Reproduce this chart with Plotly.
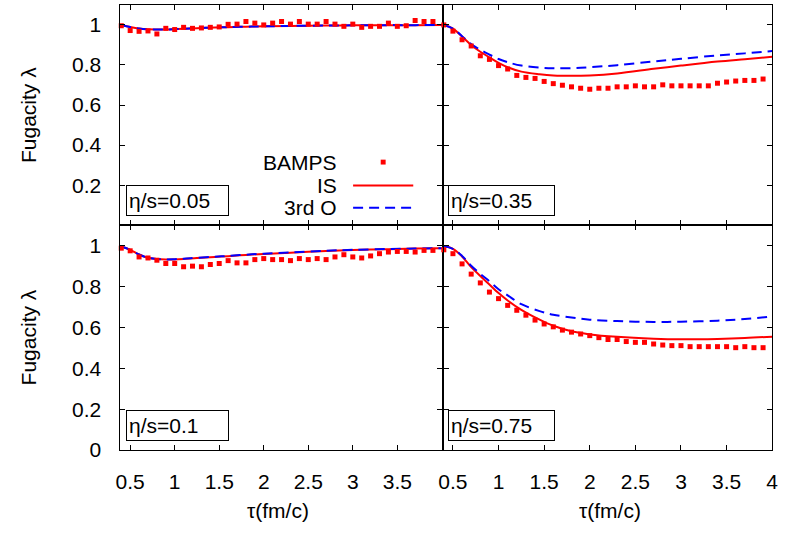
import plotly.graph_objects as go

# ---------------- data ----------------
tau_bamps = [0.4, 0.5, 0.6, 0.7, 0.8, 0.9, 1.0, 1.1, 1.2, 1.3, 1.4, 1.5,
             1.6, 1.7, 1.8, 1.9, 2.0, 2.1, 2.2, 2.3, 2.4, 2.5, 2.6, 2.7,
             2.8, 2.9, 3.0, 3.1, 3.2, 3.3, 3.4, 3.5, 3.6, 3.7, 3.8, 3.9]

tau_hydro = [0.4, 0.5, 0.6, 0.7, 0.8, 0.9, 1.0, 1.1, 1.25, 1.45, 1.6, 1.8,
             2.0, 2.3, 2.7, 3.0, 3.4, 3.7, 4.0]

# eta/s = 0.05
bamps_005 = [0.996, 0.972, 0.968, 0.970, 0.955, 0.983, 0.977, 0.988, 0.983, 0.985,
             0.988, 0.990, 1.003, 1.004, 1.017, 1.009, 1.000, 1.009, 1.017, 1.004,
             1.017, 1.004, 1.004, 1.017, 1.004, 0.993, 1.004, 0.988, 0.993, 0.993,
             1.009, 0.993, 0.996, 1.022, 1.017, 1.017]
is_005 = [1.000, 0.990, 0.982, 0.978, 0.977, 0.977, 0.979, 0.981, 0.984, 0.987,
          0.989, 0.991, 0.993, 0.995, 0.997, 0.998, 0.999, 0.999, 1.000]
o3_005 = [1.000, 0.990, 0.982, 0.978, 0.977, 0.977, 0.979, 0.981, 0.984, 0.987,
          0.989, 0.991, 0.993, 0.995, 0.997, 0.998, 0.999, 0.999, 1.000]

# eta/s = 0.35
bamps_035 = [1.000, 0.969, 0.926, 0.895, 0.846, 0.828, 0.797, 0.780, 0.748, 0.738,
             0.733, 0.718, 0.707, 0.699, 0.691, 0.684, 0.679, 0.684, 0.684, 0.691,
             0.691, 0.696, 0.691, 0.691, 0.701, 0.696, 0.696, 0.696, 0.696, 0.696,
             0.709, 0.715, 0.720, 0.723, 0.723, 0.730]
is_035 = [1.000, 0.982, 0.942, 0.900, 0.866, 0.838, 0.811, 0.789, 0.767, 0.754,
          0.748, 0.746, 0.748, 0.758, 0.781, 0.797, 0.817, 0.829, 0.841]
o3_035 = [1.000, 0.982, 0.944, 0.905, 0.876, 0.852, 0.830, 0.814, 0.797, 0.787,
          0.784, 0.784, 0.789, 0.799, 0.818, 0.831, 0.848, 0.858, 0.870]

# eta/s = 0.1
bamps_01 = [0.988, 0.975, 0.945, 0.940, 0.929, 0.913, 0.913, 0.897, 0.900, 0.897,
            0.908, 0.913, 0.927, 0.916, 0.916, 0.932, 0.937, 0.932, 0.932, 0.927,
            0.937, 0.932, 0.937, 0.932, 0.945, 0.956, 0.945, 0.940, 0.950, 0.961,
            0.969, 0.972, 0.972, 0.969, 0.977, 0.977]
is_01 = [0.996, 0.980, 0.957, 0.941, 0.935, 0.933, 0.933, 0.935, 0.940, 0.945,
         0.949, 0.955, 0.960, 0.966, 0.974, 0.979, 0.983, 0.986, 0.988]
o3_01 = [0.996, 0.980, 0.957, 0.941, 0.935, 0.933, 0.934, 0.936, 0.941, 0.946,
         0.950, 0.956, 0.961, 0.967, 0.975, 0.980, 0.984, 0.986, 0.988]

# eta/s = 0.75
bamps_075 = [0.980, 0.961, 0.911, 0.861, 0.818, 0.773, 0.741, 0.708, 0.684, 0.660,
             0.636, 0.617, 0.603, 0.587, 0.577, 0.568, 0.560, 0.550, 0.541, 0.541,
             0.531, 0.527, 0.527, 0.519, 0.514, 0.511, 0.511, 0.506, 0.506, 0.506,
             0.506, 0.506, 0.501, 0.506, 0.501, 0.501]
is_075 = [0.997, 0.985, 0.947, 0.895, 0.852, 0.810, 0.768, 0.732, 0.686, 0.638,
          0.608, 0.581, 0.566, 0.554, 0.545, 0.542, 0.544, 0.548, 0.555]
o3_075 = [0.997, 0.985, 0.950, 0.902, 0.862, 0.826, 0.787, 0.757, 0.714, 0.680,
          0.662, 0.649, 0.638, 0.631, 0.627, 0.628, 0.633, 0.641, 0.654]

panel_labels = ["η/s=0.05", "η/s=0.35", "η/s=0.1", "η/s=0.75"]
x_ticks_left = [0.5, 1, 1.5, 2, 2.5, 3, 3.5]
x_ticks_right = [0.5, 1, 1.5, 2, 2.5, 3, 3.5, 4]
y_ticks_top = [0.2, 0.4, 0.6, 0.8, 1]
y_ticks_bottom = [0, 0.2, 0.4, 0.6, 0.8, 1]
legend_names = ["BAMPS", "IS", "3rd O"]

RED = "#ff0000"
BLUE = "#0000ff"
FONT = "Liberation Sans"
FS = 21
W, H = 792, 535

fig = go.Figure()

panels = [
    (bamps_005, is_005, o3_005, "x", "y"),
    (bamps_035, is_035, o3_035, "x2", "y2"),
    (bamps_01, is_01, o3_01, "x3", "y3"),
    (bamps_075, is_075, o3_075, "x4", "y4"),
]
for bamps, ism, o3, xa, ya in panels:
    fig.add_trace(go.Scatter(x=tau_hydro, y=ism, mode="lines", xaxis=xa, yaxis=ya,
                             line=dict(color=RED, width=2, shape="spline"),
                             showlegend=False))
    fig.add_trace(go.Scatter(x=tau_hydro, y=o3, mode="lines", xaxis=xa, yaxis=ya,
                             line=dict(color=BLUE, width=2, dash="10px,6px", shape="spline"),
                             showlegend=False))
    fig.add_trace(go.Scatter(x=tau_bamps, y=bamps, mode="markers", xaxis=xa, yaxis=ya,
                             marker=dict(symbol="square", size=5, color=RED),
                             cliponaxis=False, showlegend=False))

def px(v):
    return v / W

def py(v):
    return 1 - v / H

axis_common = dict(showline=True, linecolor="black", linewidth=1, mirror="ticks",
                   ticks="inside", ticklen=5, tickcolor="black", tickwidth=1,
                   showgrid=False, zeroline=False,
                   tickfont=dict(family=FONT, size=FS, color="black"))

xl = [px(117), px(443)]
xr = [px(445), px(778)]
yt = [py(230), py(5)]
yb = [py(459.5), py(230)]

fig.update_layout(
    width=W, height=H,
    margin=dict(l=0, r=0, t=0, b=0),
    paper_bgcolor="white", plot_bgcolor="white",
    showlegend=False,
    xaxis=dict(axis_common, domain=xl, range=[0.39, 4.0], anchor="y",
               tickvals=x_ticks_left, showticklabels=False),
    xaxis2=dict(axis_common, domain=xr, range=[0.4, 4.0], anchor="y2",
                tickvals=x_ticks_right, showticklabels=False),
    xaxis3=dict(axis_common, domain=xl, range=[0.39, 4.0], anchor="y3",
                tickvals=x_ticks_left, ticklabelstandoff=13),
    xaxis4=dict(axis_common, domain=xr, range=[0.4, 4.0], anchor="y4",
                tickvals=x_ticks_right, ticklabelstandoff=13),
    yaxis=dict(axis_common, domain=yt, range=[0, 1.1], anchor="x",
               tickvals=y_ticks_top, ticklabelstandoff=14),
    yaxis2=dict(axis_common, domain=yt, range=[0, 1.1], anchor="x2",
                tickvals=y_ticks_top, showticklabels=False),
    yaxis3=dict(axis_common, domain=yb, range=[0, 1.1], anchor="x3",
                tickvals=y_ticks_bottom, ticklabelstandoff=14),
    yaxis4=dict(axis_common, domain=yb, range=[0, 1.1], anchor="x4",
                tickvals=y_ticks_bottom, showticklabels=False),
)

annotations = []
shapes = []

# panel labels in boxes
box_pos = [(122.7, 220.7, 97), (449, 220.7, 101), (122.7, 450, 97), (449, 450, 101)]
for label, (bx, by, bw) in zip(panel_labels, box_pos):
    annotations.append(dict(text=label, xref="paper", yref="paper",
                            x=px(bx), y=py(by), xanchor="left", yanchor="bottom",
                            showarrow=False, align="left", width=bw, height=25,
                            bordercolor="black", borderwidth=1, borderpad=2,
                            bgcolor="white",
                            font=dict(family=FONT, size=FS, color="black")))

# axis titles
for cx in (277, 614):
    annotations.append(dict(text="τ(fm/c)", xref="paper", yref="paper",
                            x=px(cx), y=py(521), xanchor="center", yanchor="middle",
                            showarrow=False,
                            font=dict(family=FONT, size=FS, color="black")))
for cy in (117.5, 344.5):
    annotations.append(dict(text="Fugacity λ", xref="paper", yref="paper",
                            x=px(23.3), y=py(cy), xanchor="center", yanchor="middle",
                            textangle=-90, showarrow=False,
                            font=dict(family=FONT, size=FS, color="black")))

# legend (text right-aligned, sample on the right)
leg_y = [165.5, 189.5, 211.5]
for name, ly in zip(legend_names, leg_y):
    annotations.append(dict(text=name, xref="paper", yref="paper",
                            x=px(339), y=py(ly), xanchor="right", yanchor="middle",
                            showarrow=False,
                            font=dict(family=FONT, size=FS, color="black")))
shapes.append(dict(type="rect", xref="paper", yref="paper",
                   x0=px(381), x1=px(386), y0=py(168), y1=py(163),
                   fillcolor=RED, line=dict(width=0)))
shapes.append(dict(type="line", xref="paper", yref="paper",
                   x0=px(353), x1=px(414), y0=py(189.5), y1=py(189.5),
                   line=dict(color=RED, width=2)))
shapes.append(dict(type="line", xref="paper", yref="paper",
                   x0=px(353), x1=px(414), y0=py(212), y1=py(212),
                   line=dict(color=BLUE, width=2, dash="10px,6px")))

fig.update_layout(annotations=annotations, shapes=shapes)

fig.write_html(
    "out.html",
    config={"displayModeBar": False},
    post_script=(
        "document.documentElement.style.margin='0px';"
        "document.documentElement.style.padding='0px';"
        "document.documentElement.style.overflow='hidden';"
        "document.body.style.margin='0px';"
        "document.body.style.padding='0px';"
        "document.body.style.overflow='hidden';"
    ),
)
